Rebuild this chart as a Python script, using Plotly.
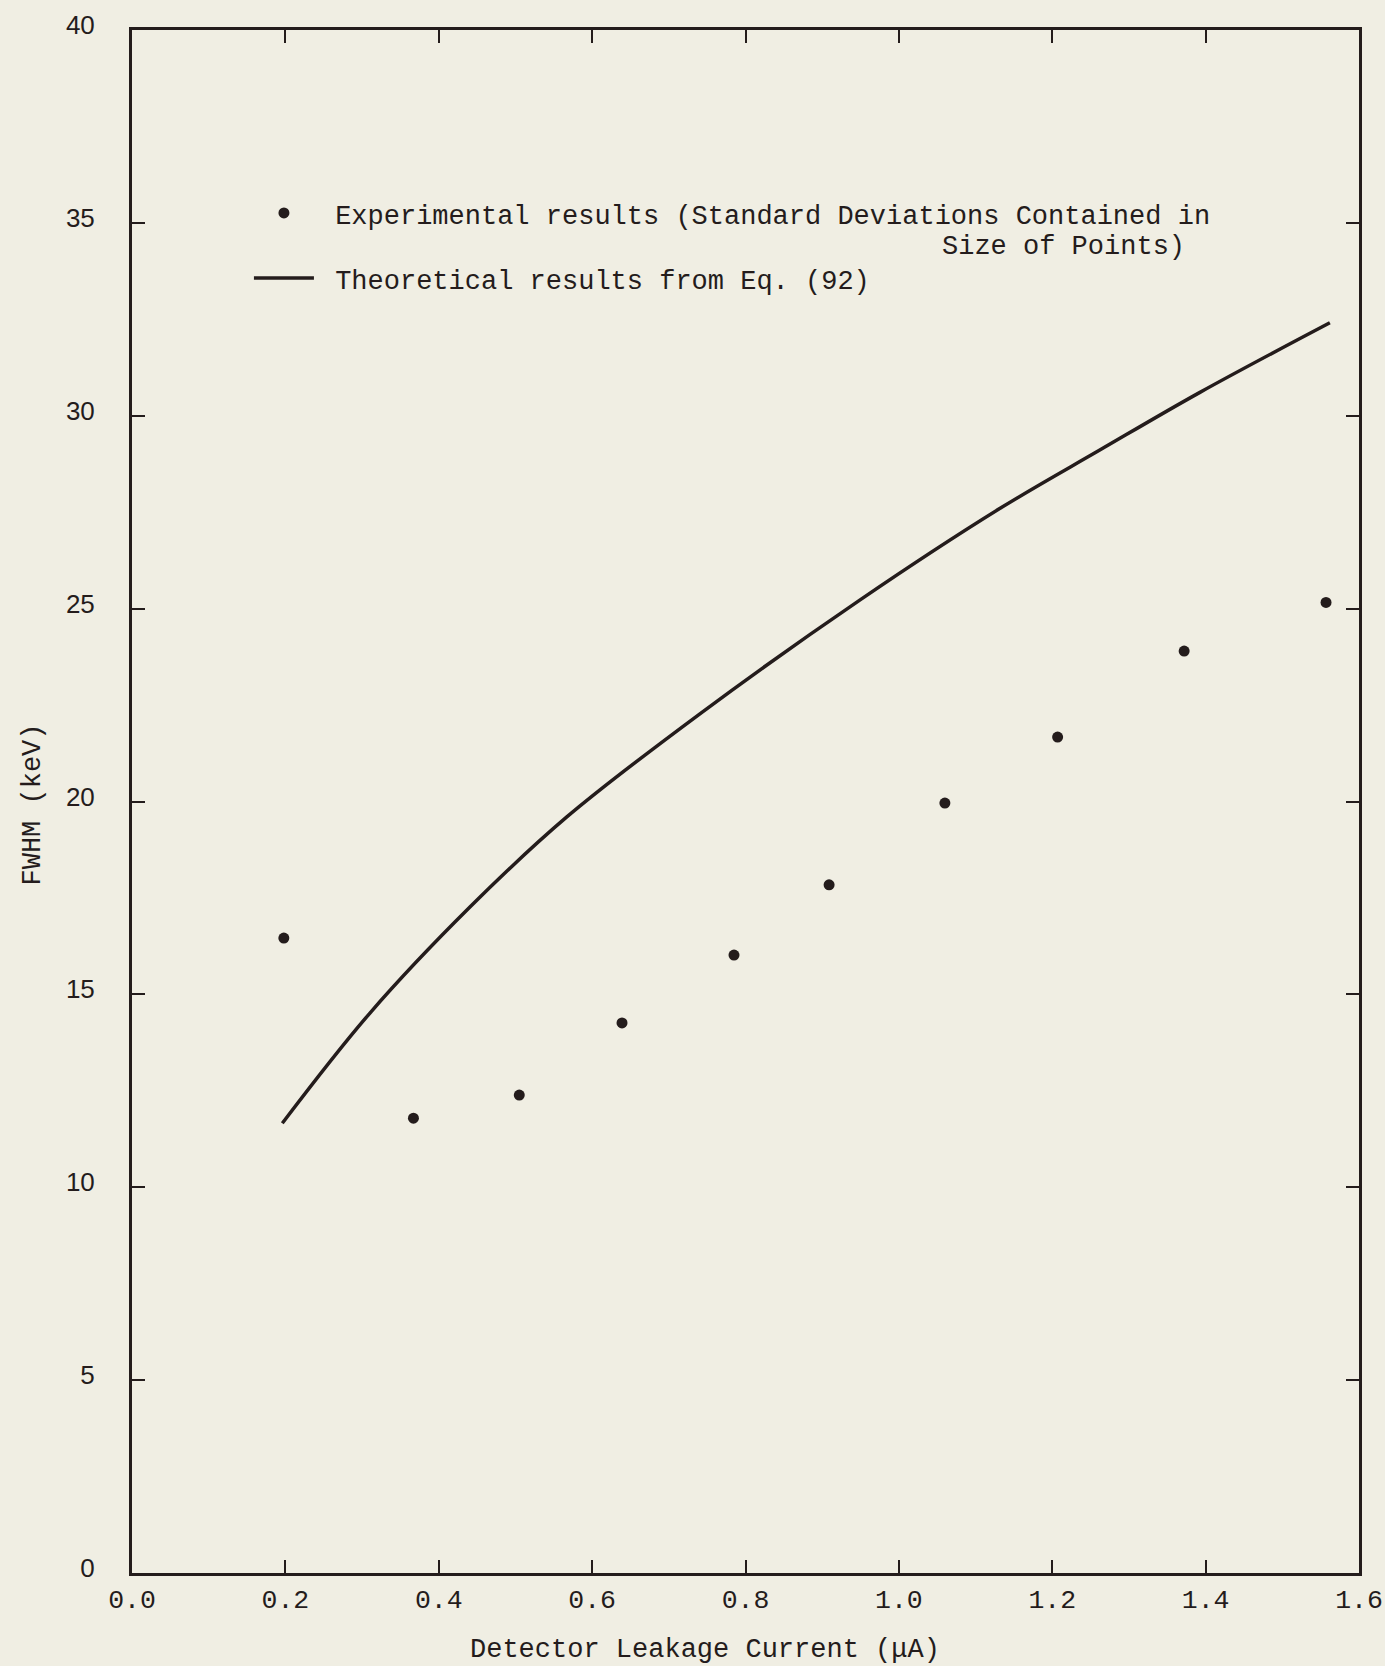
import plotly.graph_objects as go

# Experimental results (points)
exp_current = [0.198, 0.367, 0.505, 0.639, 0.785, 0.909, 1.060, 1.207, 1.372, 1.557]
exp_fwhm = [16.46, 11.79, 12.39, 14.26, 16.02, 17.84, 19.96, 21.67, 23.90, 25.16]

# Theoretical results from Eq. (92) (curve)
theo_current = [0.196, 0.310, 0.441, 0.567, 0.741, 0.949, 1.132, 1.262, 1.392, 1.562]
theo_fwhm = [11.66, 14.51, 17.27, 19.60, 22.28, 25.22, 27.60, 29.11, 30.60, 32.41]

x_ticks = [0.0, 0.2, 0.4, 0.6, 0.8, 1.0, 1.2, 1.4, 1.6]
y_ticks = [0, 5, 10, 15, 20, 25, 30, 35, 40]

x_title = "Detector Leakage Current (\u03bcA)"
y_title = "FWHM (keV)"
exp_label = "Experimental results (Standard Deviations Contained in"
exp_label_cont = "Size of Points)"
theo_label = "Theoretical results from Eq. (92)"

INK = "#241c1c"
PAPER = "#f0eee3"
MONO = "Liberation Mono, Courier New, monospace"
NBSP = "\u00a0"

fig = go.Figure()
fig.add_trace(go.Scatter(
    x=exp_current, y=exp_fwhm, mode="markers",
    marker=dict(size=11, color=INK),
    name=NBSP + exp_label, legendgroup="exp",
))
fig.add_trace(go.Scatter(
    x=theo_current, y=theo_fwhm, mode="lines",
    line=dict(color=INK, width=3.5, shape="spline", smoothing=1.0),
    name=NBSP + theo_label, legendgroup="theo",
))

fig.update_layout(
    width=1385, height=1666,
    margin=dict(l=132, r=26, t=30, b=93),
    paper_bgcolor=PAPER, plot_bgcolor=PAPER,
    font=dict(family=MONO, size=26, color=INK),
    showlegend=True,
    legend=dict(
        x=0.0953, y=0.897, xanchor="left", yanchor="top",
        bgcolor="rgba(0,0,0,0)", borderwidth=0,
        font=dict(family=MONO, size=27, color=INK),
        valign="middle", tracegroupgap=27, itemwidth=60,
    ),
    annotations=[
        dict(text=exp_label_cont, xref="paper", yref="paper",
             x=(940 - 132) / 1227, y=(1573 - 247) / 1543,
             xanchor="left", yanchor="middle", showarrow=False,
             font=dict(family=MONO, size=27, color=INK)),
        dict(text=x_title, xref="paper", yref="paper", x=0.467, y=0,
             xanchor="center", yanchor="middle", yshift=-77, showarrow=False,
             font=dict(family=MONO, size=27, color=INK)),
        dict(text=y_title, xref="paper", yref="paper", x=0, y=0.5,
             xanchor="center", yanchor="middle", xshift=-100, yshift=-3,
             textangle=-90, showarrow=False,
             font=dict(family=MONO, size=27, color=INK)),
    ],
)
fig.update_xaxes(
    range=[0, 1.6], tickvals=x_ticks, tickformat=".1f",
    showline=True, linewidth=3, linecolor=INK, mirror="ticks",
    ticks="inside", ticklen=13, tickwidth=2, tickcolor=INK,
    showgrid=False, zeroline=False, automargin=False,
    tickfont=dict(family=MONO, size=26.5, color=INK),
    ticklabelstandoff=0,
)
fig.update_yaxes(
    range=[0, 40], tickvals=y_ticks,
    showline=True, linewidth=3, linecolor=INK, mirror="ticks",
    ticks="inside", ticklen=13, tickwidth=2, tickcolor=INK,
    showgrid=False, zeroline=False, automargin=False,
    tickfont=dict(family="Liberation Sans, Arial, sans-serif", size=26, color=INK),
    ticklabelstandoff=29, ticklabelshift=-5,
)

fig.write_html("out.html")
